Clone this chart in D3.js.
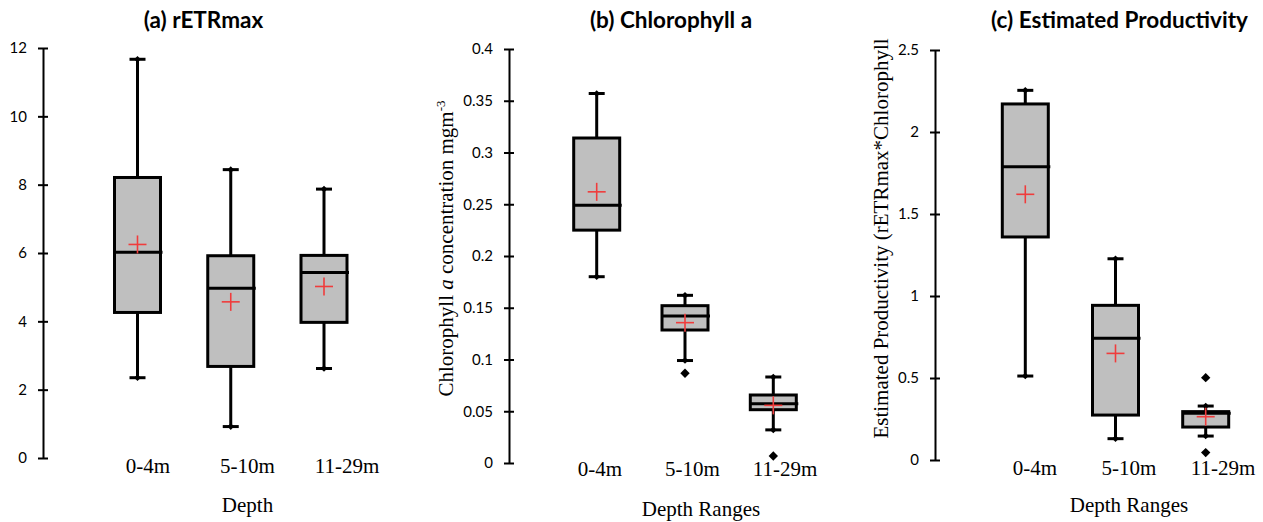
<!DOCTYPE html>
<html><head><meta charset="utf-8">
<script src="https://cdn.jsdelivr.net/npm/d3@7"></script>
<style>html,body{margin:0;padding:0;background:#fff;} svg{display:block}</style>
</head><body><svg id="chart" width="1263" height="522"></svg>
<script>
const categories = ["0-4m", "5-10m", "11-29m"];

// (a) rETRmax
const rETRmaxLow = [2.35, 0.92, 2.62];
const rETRmaxQ1 = [4.26, 2.68, 3.97];
const rETRmaxMedian = [6.02, 4.97, 5.43];
const rETRmaxQ3 = [8.21, 5.92, 5.93];
const rETRmaxHigh = [11.67, 8.44, 7.87];
const rETRmaxMean = [6.25, 4.57, 5.02];
const rETRmaxOutliers = [[], [], []];
const rETRmaxTicks = [0, 2, 4, 6, 8, 10, 12];

// (b) Chlorophyll a
const chlLow = [0.180, 0.099, 0.032];
const chlQ1 = [0.225, 0.1285, 0.0515];
const chlMedian = [0.249, 0.142, 0.0573];
const chlQ3 = [0.314, 0.152, 0.0657];
const chlHigh = [0.357, 0.162, 0.0831];
const chlMean = [0.262, 0.1356, 0.0557];
const chlOutliers = [[], [0.0867], [0.0068]];
const chlTicks = [0, 0.05, 0.1, 0.15, 0.2, 0.25, 0.3, 0.35, 0.4];

// (c) Estimated Productivity
const prodLow = [0.512, 0.130, 0.146];
const prodQ1 = [1.36, 0.274, 0.201];
const prodMedian = [1.788, 0.742, 0.285];
const prodQ3 = [2.171, 0.943, 0.295];
const prodHigh = [2.254, 1.227, 0.329];
const prodMean = [1.62, 0.65, 0.264];
const prodOutliers = [[], [], [0.502, 0.045]];
const prodTicks = [0, 0.5, 1, 1.5, 2, 2.5];

const titles = ["(a) rETRmax", "(b) Chlorophyll a", "(c) Estimated Productivity"];
const xTitles = ["Depth", "Depth Ranges", "Depth Ranges"];

// layout (positions only)
const layouts = [
  {axisX: 43, yBottom: 458, yTop: 48, boxX: [137.5, 324], labX: [148, 347], labY: 473,
   titleX: 203.5, xTitleX: 247.5, xTitleY: 512},
  {axisX: 509, yBottom: 463, yTop: 49, boxX: [596.7, 773.3], labX: [600, 785], labY: 476,
   titleX: 671, xTitleX: 701, xTitleY: 516},
  {axisX: 935, yBottom: 460, yTop: 50, boxX: [1025.3, 1205.7], labX: [1035, 1223], labY: 475,
   titleX: 1119.5, xTitleX: 1129, xTitleY: 512}
];

const panels = [
  {low: rETRmaxLow, q1: rETRmaxQ1, med: rETRmaxMedian, q3: rETRmaxQ3, high: rETRmaxHigh, mean: rETRmaxMean, out: rETRmaxOutliers, ticks: rETRmaxTicks},
  {low: chlLow, q1: chlQ1, med: chlMedian, q3: chlQ3, high: chlHigh, mean: chlMean, out: chlOutliers, ticks: chlTicks},
  {low: prodLow, q1: prodQ1, med: prodMedian, q3: prodQ3, high: prodHigh, mean: prodMean, out: prodOutliers, ticks: prodTicks}
];

const svg = d3.select("#chart");
const serif = "'Liberation Serif', 'Times New Roman', serif";
const sans = "Lato, 'Open Sans', sans-serif";
const BOXW = 46, CAPW = 16, PLUS = 9, SW = 3;
const red = "#f03c3c";

panels.forEach((p, pi) => {
  const L = layouts[pi];
  const g = svg.append("g");
  const y = d3.scaleLinear().domain([0, d3.max(p.ticks)]).range([L.yBottom, L.yTop]);
  const x = d3.scalePoint().domain(categories).range(L.boxX);
  const xl = d3.scalePoint().domain(categories).range(L.labX);

  // y axis
  const ax = g.append("g").attr("transform", `translate(${L.axisX},0)`)
    .call(d3.axisLeft(y).tickValues(p.ticks).tickSizeOuter(0).tickSizeInner(5).tickPadding(11)
      .tickFormat(d => String(d)));
  ax.select(".domain").attr("stroke", "#000").attr("stroke-width", 2);
  ax.selectAll(".tick line").attr("x1", -5).attr("x2", 5).attr("stroke", "#000").attr("stroke-width", 2);
  ax.selectAll(".tick text").attr("font-family", sans).attr("font-size", 15).attr("fill", "#000");

  categories.forEach((c, i) => {
    const cx = x(c);
    const bg = g.append("g");
    // whiskers
    bg.append("line").attr("x1", cx).attr("x2", cx).attr("y1", y(p.high[i])).attr("y2", y(p.q3[i]))
      .attr("stroke", "#000").attr("stroke-width", SW);
    bg.append("line").attr("x1", cx).attr("x2", cx).attr("y1", y(p.q1[i])).attr("y2", y(p.low[i]))
      .attr("stroke", "#000").attr("stroke-width", SW);
    [p.high[i], p.low[i]].forEach(v => {
      bg.append("line").attr("x1", cx - CAPW / 2).attr("x2", cx + CAPW / 2).attr("y1", y(v)).attr("y2", y(v))
        .attr("stroke", "#000").attr("stroke-width", SW);
      bg.append("path").attr("d", d3.symbol(d3.symbolSquare, 22)())
        .attr("transform", `translate(${cx},${y(v)}) rotate(45)`).attr("fill", "#000");
    });
    // box
    bg.append("rect").attr("x", cx - BOXW / 2).attr("width", BOXW)
      .attr("y", y(p.q3[i])).attr("height", y(p.q1[i]) - y(p.q3[i]))
      .attr("fill", "#bfbfbf").attr("stroke", "#000").attr("stroke-width", SW);
    // median
    bg.append("line").attr("x1", cx - BOXW / 2).attr("x2", cx + BOXW / 2 + 2)
      .attr("y1", y(p.med[i])).attr("y2", y(p.med[i])).attr("stroke", "#000").attr("stroke-width", SW);
    // outliers
    p.out[i].forEach(v => {
      bg.append("path").attr("d", d3.symbol(d3.symbolSquare, 44)())
        .attr("transform", `translate(${cx},${y(v)}) rotate(45)`).attr("fill", "#000");
    });
    // mean
    const my = y(p.mean[i]);
    bg.append("line").attr("x1", cx - PLUS).attr("x2", cx + PLUS).attr("y1", my).attr("y2", my)
      .attr("stroke", red).attr("stroke-width", 1.6);
    bg.append("line").attr("x1", cx).attr("x2", cx).attr("y1", my - PLUS).attr("y2", my + PLUS)
      .attr("stroke", red).attr("stroke-width", 1.6);

    // category label
    g.append("text").attr("x", xl(c)).attr("y", L.labY).attr("text-anchor", "middle")
      .attr("font-family", serif).attr("font-size", 21).attr("fill", "#000").text(c);
  });

  // title
  g.append("text").attr("x", L.titleX).attr("y", 28).attr("text-anchor", "middle")
    .attr("font-family", sans).attr("font-weight", 700).attr("font-size", 22.5).attr("fill", "#000")
    .text(titles[pi]);
  // x title
  g.append("text").attr("x", L.xTitleX).attr("y", L.xTitleY).attr("text-anchor", "middle")
    .attr("font-family", serif).attr("font-size", 21).attr("fill", "#000").text(xTitles[pi]);
});

// y-axis titles
const yb = svg.append("text").attr("transform", "translate(453,248.5) rotate(-90)")
  .attr("text-anchor", "middle").attr("font-family", serif).attr("font-size", 21).attr("fill", "#000");
yb.append("tspan").text("Chlorophyll ");
yb.append("tspan").attr("font-style", "italic").text("a");
yb.append("tspan").text(" concentration mgm");
yb.append("tspan").attr("font-size", 13).attr("dy", -8).text("-3");

svg.append("text").attr("transform", "translate(888,238.5) rotate(-90)")
  .attr("text-anchor", "middle").attr("font-family", serif).attr("font-size", 21).attr("fill", "#000")
  .text("Estimated Productivity (rETRmax*Chlorophyll");
</script>
</body></html>
